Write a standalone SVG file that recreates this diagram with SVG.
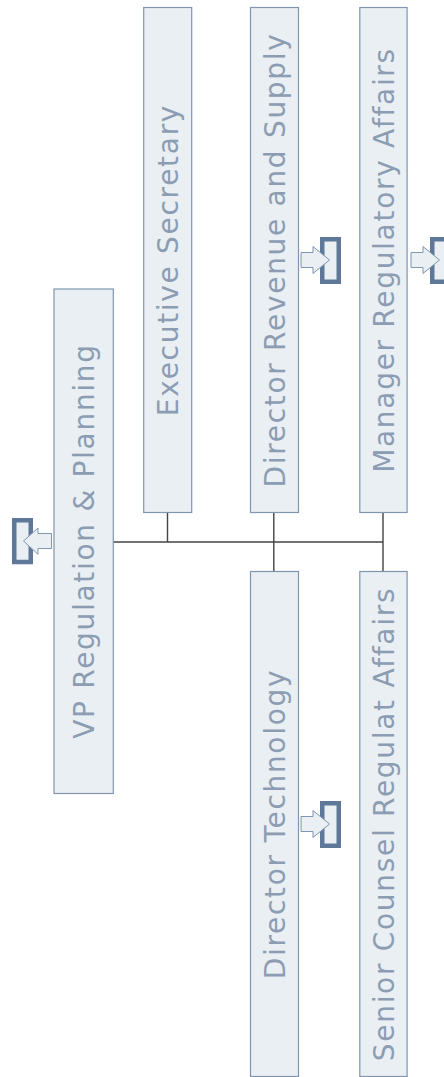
<svg xmlns="http://www.w3.org/2000/svg" width="444" height="1077" viewBox="0 0 444 1077">
<style>
.box{fill:#E9EFF2;stroke:#7F95B2;stroke-width:1.2}
.lbl{font-family:"DejaVu Sans",Verdana,sans-serif;font-size:28px;fill:#8C9DB3;text-anchor:middle;letter-spacing:1.7px}
.frame{fill:#E9EFF2;stroke:#5F7899;stroke-width:4.5}
.arr{fill:#E9EFF2;stroke:#7F95B2;stroke-width:1}
.conn{stroke:#444;stroke-width:1.4;fill:none}
</style>
<defs>
<g id="icoR">
<rect class="frame" x="322.25" y="239.25" width="16.5" height="42.5"/>
<polygon class="arr" points="301,252.5 313,252.5 313,246.5 329.5,260 313,273.5 313,267.5 301,267.5"/>
</g>
</defs>
<g id="connectors">
<path class="conn" d="M113,542 H383 M167.5,512.5 V542 M273.8,512.5 V571.5 M383,512.5 V571.5"/>
</g>
<g id="vp">
<rect class="box" x="54" y="289" width="59.3" height="504.5"/>
<text class="lbl" transform="translate(83.7,541) rotate(-90)" y="10.3">VP Regulation &amp; Planning</text>
<rect class="frame" x="14.25" y="520.25" width="16.5" height="41.75"/>
<polygon class="arr" points="51.5,533.5 38,533.5 38,528 23.5,541 38,554.3 38,548.5 51.5,548.5"/>
</g>
<g id="exec">
<rect class="box" x="143.7" y="7.5" width="48" height="505"/>
<text class="lbl" transform="translate(167.7,260) rotate(-90)" y="10.3">Executive Secretary</text>
</g>
<g id="dirrev">
<rect class="box" x="250.5" y="7.5" width="48" height="505"/>
<text class="lbl" transform="translate(274.5,260) rotate(-90)" y="10.3">Director Revenue and Supply</text>
<use href="#icoR"/>
</g>
<g id="mgr">
<rect class="box" x="359.8" y="7.5" width="47.3" height="505"/>
<text class="lbl" transform="translate(383.5,260) rotate(-90)" y="10.3">Manager Regulatory Affairs</text>
<use href="#icoR" transform="translate(110,0)"/>
</g>
<g id="dirtech">
<rect class="box" x="250.5" y="571.5" width="48" height="505"/>
<text class="lbl" transform="translate(274.5,824) rotate(-90)" y="10.3">Director Technology</text>
<use href="#icoR" transform="translate(0,564)"/>
</g>
<g id="senior">
<rect class="box" x="359.8" y="571.5" width="47.3" height="505"/>
<text class="lbl" transform="translate(383.5,824) rotate(-90)" y="10.3">Senior Counsel Regulat Affairs</text>
</g>
</svg>
